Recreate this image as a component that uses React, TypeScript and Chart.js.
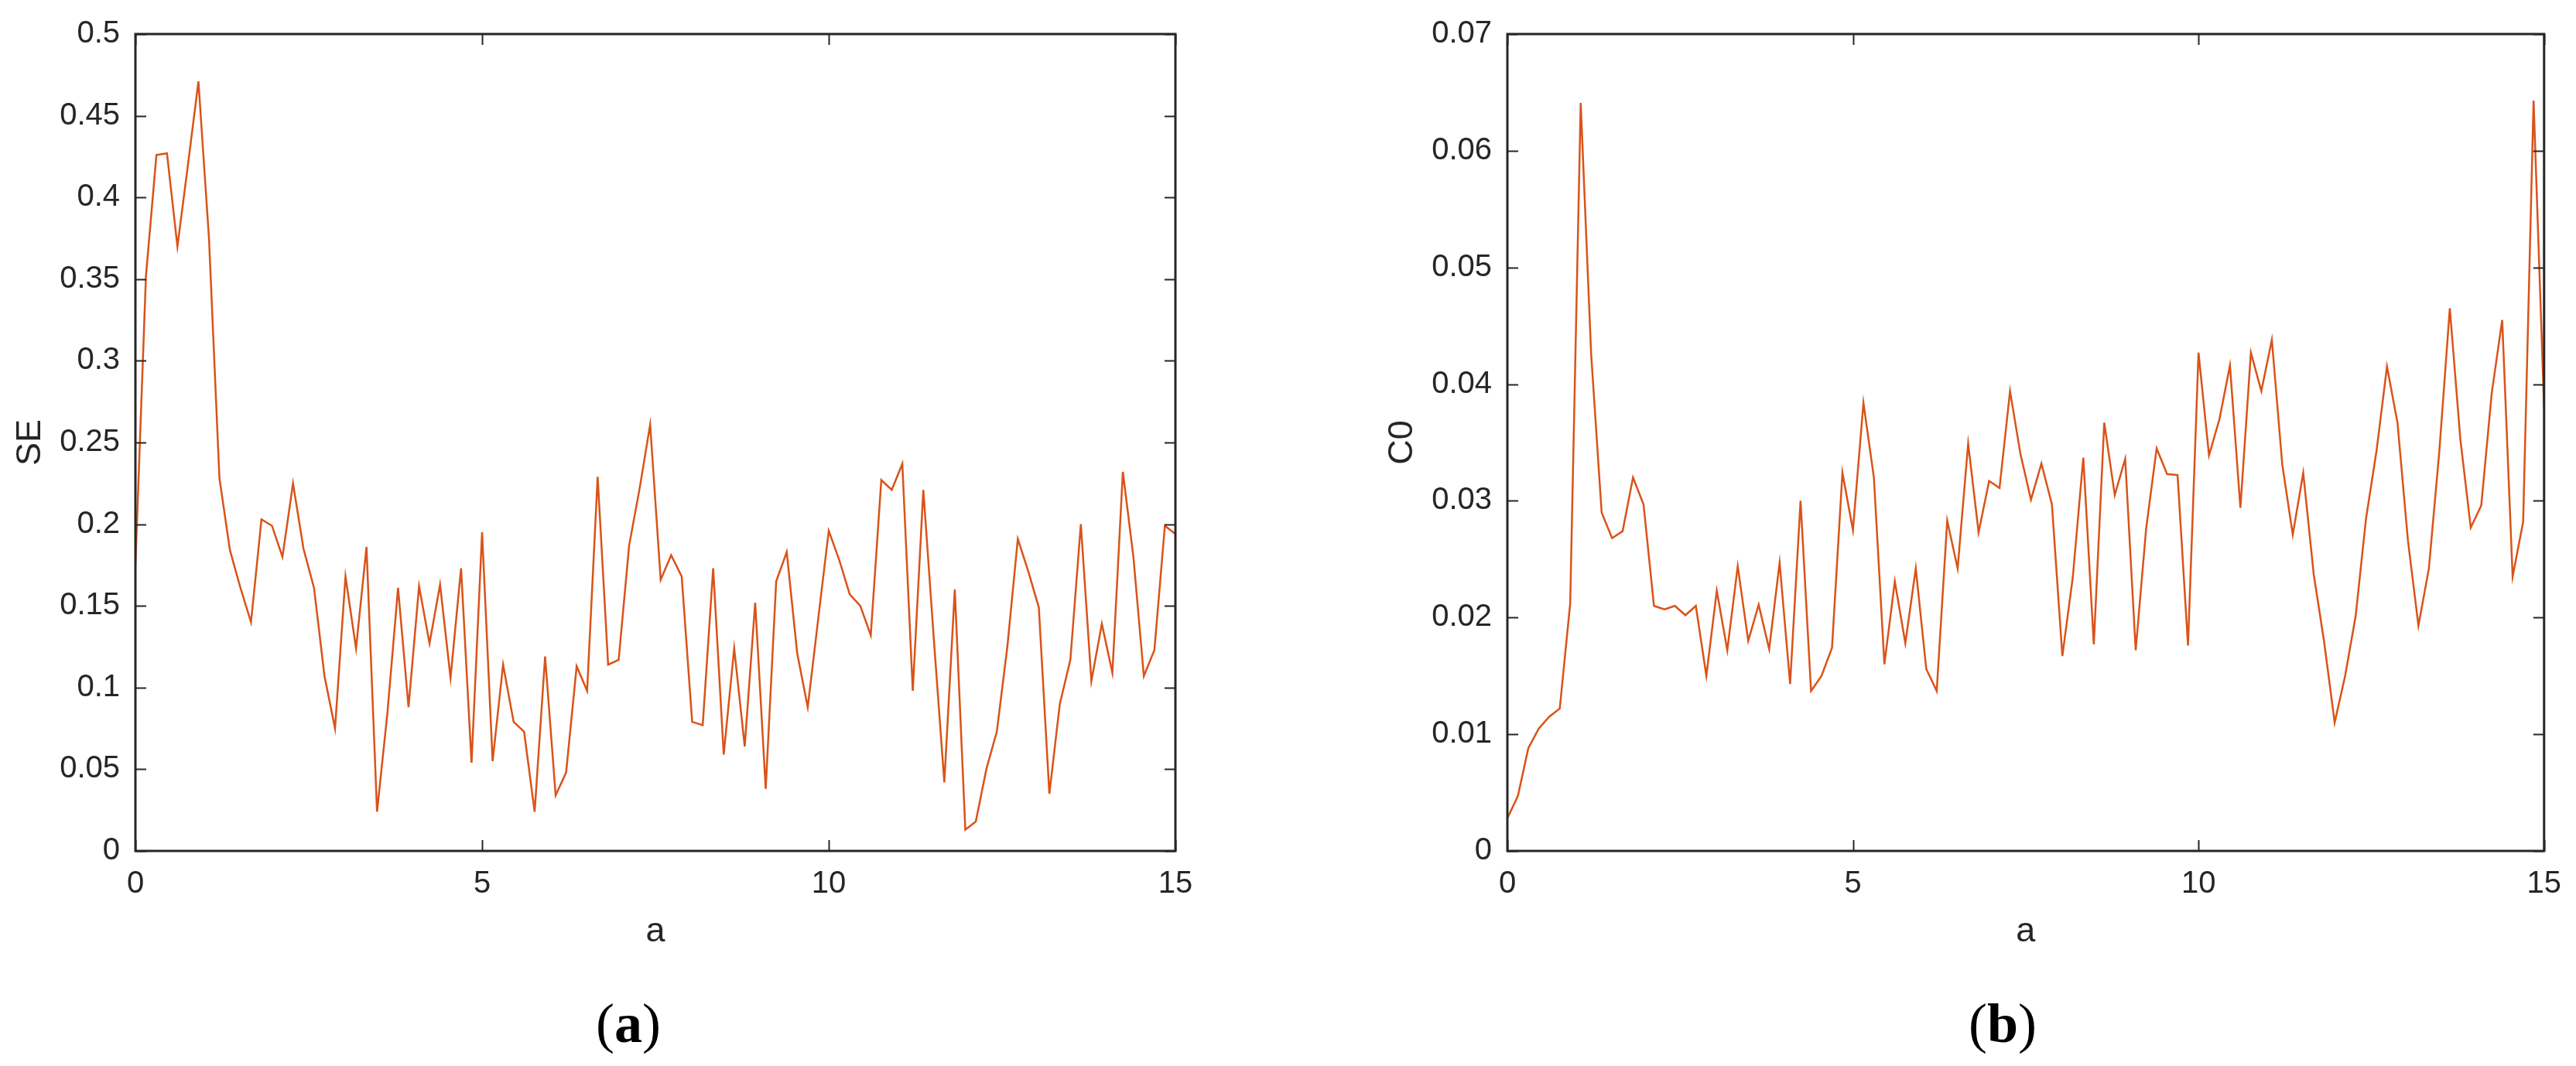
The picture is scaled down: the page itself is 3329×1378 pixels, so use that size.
import React, { useEffect, useRef } from "react";
import { Chart, registerables } from "chart.js";

Chart.register(...registerables);

// abscissa grid (100 samples from 0 to 15)
const A_VALUES = [
  0, 0.152, 0.303, 0.455, 0.606, 0.758, 0.909, 1.061, 1.212, 1.364,
  1.515, 1.667, 1.818, 1.97, 2.121, 2.273, 2.424, 2.576, 2.727, 2.879,
  3.03, 3.182, 3.333, 3.485, 3.636, 3.788, 3.939, 4.091, 4.242, 4.394,
  4.545, 4.697, 4.848, 5, 5.152, 5.303, 5.455, 5.606, 5.758, 5.909,
  6.061, 6.212, 6.364, 6.515, 6.667, 6.818, 6.97, 7.121, 7.273, 7.424,
  7.576, 7.727, 7.879, 8.03, 8.182, 8.333, 8.485, 8.636, 8.788, 8.939,
  9.091, 9.242, 9.394, 9.545, 9.697, 9.848, 10, 10.152, 10.303, 10.455,
  10.606, 10.758, 10.909, 11.061, 11.212, 11.364, 11.515, 11.667, 11.818, 11.97,
  12.121, 12.273, 12.424, 12.576, 12.727, 12.879, 13.03, 13.182, 13.333, 13.485,
  13.636, 13.788, 13.939, 14.091, 14.242, 14.394, 14.545, 14.697, 14.848, 15,
];

const SE_VALUES = [
  0.175, 0.352, 0.426, 0.427, 0.37, 0.42, 0.471, 0.375, 0.228, 0.184,
  0.161, 0.14, 0.203, 0.199, 0.18, 0.225, 0.185, 0.161, 0.107, 0.075,
  0.168, 0.124, 0.186, 0.024, 0.085, 0.161, 0.088, 0.162, 0.127, 0.163,
  0.106, 0.173, 0.054, 0.195, 0.055, 0.114, 0.079, 0.073, 0.024, 0.119,
  0.034, 0.048, 0.113, 0.098, 0.229, 0.114, 0.117, 0.187, 0.222, 0.261,
  0.166, 0.181, 0.168, 0.079, 0.077, 0.173, 0.059, 0.124, 0.064, 0.152,
  0.038, 0.165, 0.183, 0.121, 0.088, 0.142, 0.196, 0.178, 0.157, 0.15,
  0.132, 0.227, 0.221, 0.237, 0.098, 0.221, 0.13, 0.042, 0.16, 0.013,
  0.018, 0.05, 0.073, 0.125, 0.191, 0.171, 0.149, 0.035, 0.09, 0.117,
  0.2, 0.104, 0.139, 0.109, 0.232, 0.18, 0.107, 0.123, 0.199, 0.194,
];

const C0_VALUES = [
  0.0028, 0.0047, 0.0088, 0.0105, 0.0115, 0.0122, 0.0212, 0.0641, 0.0426, 0.029,
  0.0268, 0.0274, 0.032, 0.0297, 0.021, 0.0207, 0.021, 0.0202, 0.021, 0.015,
  0.0223, 0.0172, 0.0244, 0.018, 0.0211, 0.0173, 0.0247, 0.0143, 0.03, 0.0137,
  0.015, 0.0174, 0.0324, 0.0275, 0.0384, 0.032, 0.016, 0.0231, 0.0178, 0.0242,
  0.0156, 0.0137, 0.0283, 0.0242, 0.0349, 0.0273, 0.0317, 0.0311, 0.0394, 0.034,
  0.0301, 0.0332, 0.0297, 0.0167, 0.0235, 0.0337, 0.0177, 0.0367, 0.0305, 0.0336,
  0.0172, 0.0276, 0.0345, 0.0323, 0.0322, 0.0176, 0.0427, 0.0339, 0.037, 0.0416,
  0.0294, 0.0427, 0.0394, 0.0438, 0.0331, 0.0271, 0.0324, 0.0237, 0.0179, 0.011,
  0.015, 0.0201, 0.0285, 0.0343, 0.0415, 0.0367, 0.0266, 0.0193, 0.0242, 0.0343,
  0.0465, 0.0353, 0.0277, 0.0296, 0.0392, 0.0455, 0.0235, 0.0282, 0.0643, 0.038,
];

const X_TICKS = [0, 5, 10, 15];
const SE_TICKS = [0, 0.05, 0.1, 0.15, 0.2, 0.25, 0.3, 0.35, 0.4, 0.45, 0.5];
const C0_TICKS = [0, 0.01, 0.02, 0.03, 0.04, 0.05, 0.06, 0.07];
const X_TITLE = "a";

const SANS = '"Liberation Sans", Arial, Helvetica, sans-serif';
const SERIF = '"Liberation Serif", "Times New Roman", serif';
const AXIS_COLOR = "#262626";
const LINE_COLOR = "#D95319";
const PAGE_H = 1378;
const PLOT_TOP = 39;
const PLOT_BOTTOM = 1100;

type PanelProps = {
  left: number;
  width: number;
  plotLeft: number;
  plotRight: number;
  values: number[];
  yTicks: number[];
  yTitle: string;
  caption: string;
  captionX: number;
};

function Panel(props: PanelProps) {
  const ref = useRef<HTMLCanvasElement | null>(null);
  useEffect(() => {
    const canvas = ref.current;
    if (!canvas) return;
    const { width, plotLeft, plotRight, values, yTicks, yTitle, caption, captionX } = props;
    const yMin = yTicks[0];
    const yMax = yTicks[yTicks.length - 1];

    const decor = {
      id: "decor",
      afterDraw(chart: any) {
        const ctx = chart.ctx as CanvasRenderingContext2D;
        const a = chart.chartArea;
        const xs = chart.scales.x;
        const ys = chart.scales.y;
        ctx.save();
        ctx.strokeStyle = AXIS_COLOR;
        ctx.lineWidth = 2;
        const tl = 14;
        ctx.beginPath();
        for (const v of X_TICKS) {
          const px = Math.round(xs.getPixelForValue(v)) + 0.5;
          ctx.moveTo(px, a.bottom);
          ctx.lineTo(px, a.bottom - tl);
          ctx.moveTo(px, a.top);
          ctx.lineTo(px, a.top + tl);
        }
        for (const v of yTicks) {
          const py = Math.round(ys.getPixelForValue(v)) + 0.5;
          ctx.moveTo(a.left, py);
          ctx.lineTo(a.left + tl, py);
          ctx.moveTo(a.right, py);
          ctx.lineTo(a.right - tl, py);
        }
        ctx.stroke();
        ctx.lineWidth = 3;
        ctx.strokeRect(a.left, a.top, a.right - a.left, a.bottom - a.top);

        // axis titles
        ctx.fillStyle = AXIS_COLOR;
        ctx.font = `45px ${SANS}`;
        ctx.textAlign = "center";
        ctx.textBaseline = "middle";
        ctx.fillText(X_TITLE, (a.left + a.right) / 2, 1205);
        ctx.save();
        ctx.translate(a.left - 135, (a.top + a.bottom) / 2);
        ctx.rotate(-Math.PI / 2);
        ctx.fillText(yTitle, 0, 0);
        ctx.restore();

        // caption "(x)" with bold letter
        ctx.fillStyle = "#000";
        ctx.textBaseline = "alphabetic";
        ctx.textAlign = "left";
        const reg = `72px ${SERIF}`;
        const bold = `bold 72px ${SERIF}`;
        ctx.font = reg;
        const wp = ctx.measureText("(").width;
        const wc = ctx.measureText(")").width;
        ctx.font = bold;
        const wl = ctx.measureText(caption).width;
        let x = captionX - (wp + wl + wc) / 2;
        const base = 1347;
        ctx.font = reg;
        ctx.fillText("(", x, base);
        x += wp;
        ctx.font = bold;
        ctx.fillText(caption, x, base);
        x += wl;
        ctx.font = reg;
        ctx.fillText(")", x, base);
        ctx.restore();
      },
    };

    const fmt = (v: number) => String(parseFloat(Number(v).toFixed(4)));

    const chart = new Chart(canvas, {
      type: "line",
      data: {
        datasets: [
          {
            data: A_VALUES.map((x, i) => ({ x, y: values[i] })),
            borderColor: LINE_COLOR,
            borderWidth: 2.5,
            pointRadius: 0,
            fill: false,
            tension: 0,
          },
        ],
      },
      options: {
        responsive: false,
        animation: false,
        devicePixelRatio: 1,
        layout: { padding: { left: 0, right: width - plotRight, top: PLOT_TOP, bottom: 0 } },
        plugins: { legend: { display: false }, tooltip: { enabled: false } },
        scales: {
          x: {
            type: "linear",
            min: 0,
            max: 15,
            afterBuildTicks: (s: any) => {
              s.ticks = X_TICKS.map((v) => ({ value: v }));
            },
            afterFit: (s: any) => {
              s.height = PAGE_H - PLOT_BOTTOM;
            },
            grid: { display: false, drawTicks: false },
            border: { display: false },
            ticks: {
              color: AXIS_COLOR,
              font: { family: SANS, size: 40 },
              padding: 19,
              maxRotation: 0,
              autoSkip: false,
              callback: (v: any) => fmt(v),
            },
          },
          y: {
            type: "linear",
            min: yMin,
            max: yMax,
            afterBuildTicks: (s: any) => {
              s.ticks = yTicks.map((v) => ({ value: v }));
            },
            afterFit: (s: any) => {
              s.width = plotLeft;
            },
            grid: { display: false, drawTicks: false },
            border: { display: false },
            ticks: {
              color: AXIS_COLOR,
              font: { family: SANS, size: 40 },
              padding: 20,
              autoSkip: false,
              callback: (v: any) => fmt(v),
            },
          },
        },
      } as any,
      plugins: [decor],
    });
    return () => chart.destroy();
  }, []);

  return (
    <canvas
      ref={ref}
      width={props.width}
      height={PAGE_H}
      style={{ position: "absolute", left: props.left, top: 0, width: props.width, height: PAGE_H }}
    />
  );
}

export default function App() {
  return (
    <div style={{ position: "absolute", left: 0, top: 0, width: 3329, height: PAGE_H, background: "#fff", overflow: "hidden" }}>
      <Panel
        left={0}
        width={1664}
        plotLeft={175}
        plotRight={1519}
        values={SE_VALUES}
        yTicks={SE_TICKS}
        yTitle="SE"
        caption="a"
        captionX={812}
      />
      <Panel
        left={1664}
        width={1665}
        plotLeft={284}
        plotRight={1628}
        values={C0_VALUES}
        yTicks={C0_TICKS}
        yTitle="C0"
        caption="b"
        captionX={924}
      />
    </div>
  );
}
